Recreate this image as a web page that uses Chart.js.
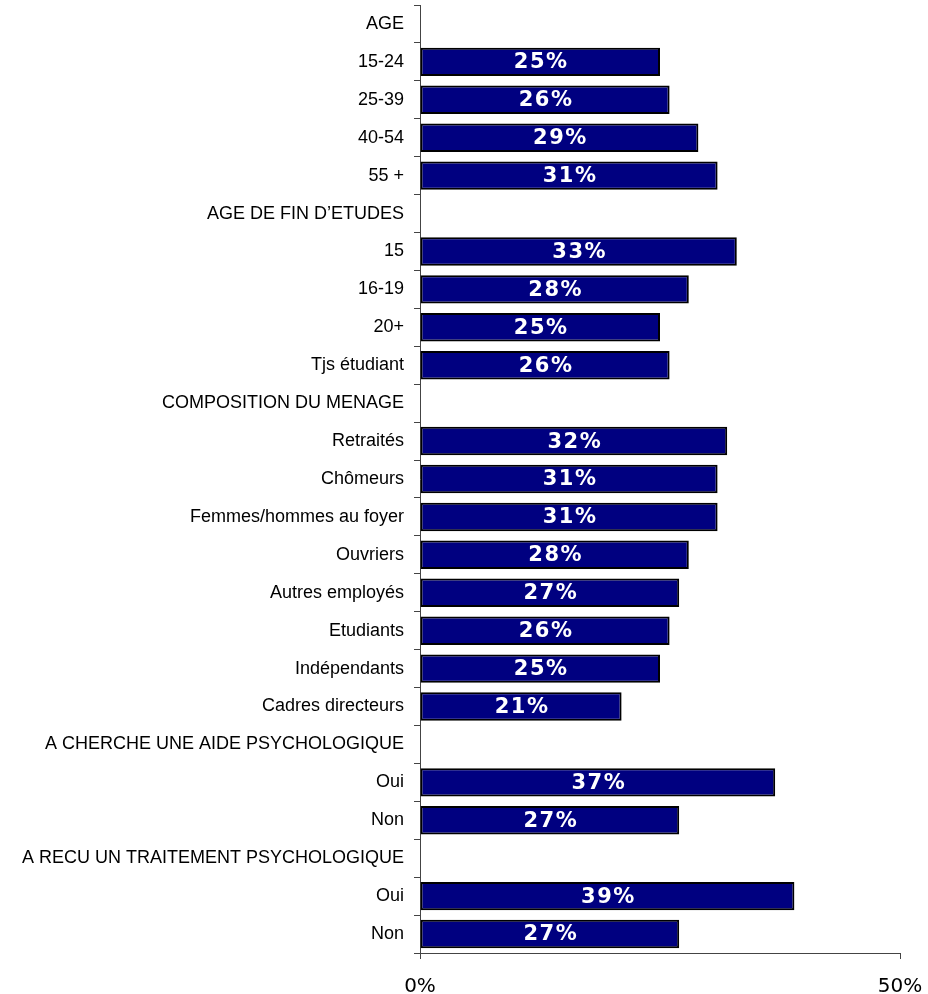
<!DOCTYPE html>
<html>
<head>
<meta charset="utf-8">
<script src="https://cdn.jsdelivr.net/npm/chart.js@4"></script>
<style>
  html, body { margin: 0; padding: 0; background: #fff; }
  #wrap { width: 928px; height: 994px; }
</style>
</head>
<body>
<div id="wrap"><canvas id="myChart"></canvas></div>
<script>
// categories (section headers have no bar)
const labels = [
    'AGE', '15-24', '25-39', '40-54', '55 +',
    'AGE DE FIN D\u2019ETUDES', '15', '16-19', '20+', 'Tjs étudiant',
    'COMPOSITION DU MENAGE', 'Retraités', 'Chômeurs', 'Femmes/hommes au foyer', 'Ouvriers',
    'Autres employés', 'Etudiants', 'Indépendants', 'Cadres directeurs',
    'A CHERCHE UNE AIDE PSYCHOLOGIQUE', 'Oui', 'Non',
    'A RECU UN TRAITEMENT PSYCHOLOGIQUE', 'Oui', 'Non'
]
const values = [
    null, 25, 26, 29, 31,
    null, 33, 28, 25, 26,
    null, 32, 31, 31, 28, 27, 26, 25, 21,
    null, 37, 27,
    null, 39, 27
]
const xTicks = [0, 50]

// white percentage text in the middle of each bar
const barLabels = {
    id: 'barLabels',
    afterDatasetsDraw(chart) {
        const ctx = chart.ctx
        const meta = chart.getDatasetMeta(0)
        ctx.save()
        ctx.fillStyle = '#fff'
        ctx.font = 'bold 21px "DejaVu Sans"'
        ctx.letterSpacing = '1.5px'
        ctx.textAlign = 'center'
        ctx.textBaseline = 'middle'
        meta.data.forEach((bar, i) => {
            const v = values[i]
            if (v === null) return
            const cx = (bar.x + bar.base) / 2 + 1
            ctx.fillText(v + '%', cx, bar.y + 1)
        })
        ctx.restore()
    }
}

const dataConfig = {
    labels: labels,
    datasets: [{
        data: values,
        backgroundColor: '#000080',
        borderColor: '#000',
        borderWidth: 2,
        borderSkipped: false,
        categoryPercentage: 1,
        barPercentage: 0.75
    }]
}

const config = {
    type: 'bar',
    data: dataConfig,
    options: {
        indexAxis: 'y',
        responsive: true,
        maintainAspectRatio: false,
        animation: false,
        layout: { padding: { top: 5, right: 28, left: 0, bottom: 0 } },
        plugins: {
            legend: { display: false },
            tooltip: { enabled: false }
        },
        scales: {
            x: {
                min: 0,
                max: 50,
                afterBuildTicks: (scale) => { scale.ticks = xTicks.map(v => ({ value: v })) },
                afterFit: (scale) => {
                    scale.height = 41
                    scale.paddingLeft = 0
                    scale.paddingRight = 0
                },
                grid: { drawOnChartArea: false, tickLength: 6, color: '#444' },
                border: { color: '#444', width: 1 },
                ticks: {
                    color: '#000',
                    padding: 16,
                    maxRotation: 0,
                    font: { family: 'DejaVu Sans', size: 20 },
                    callback: (v) => v + '%'
                }
            },
            y: {
                afterFit: (scale) => {
                    scale.width = 420
                    scale.paddingTop = 0
                    scale.paddingBottom = 0
                },
                grid: { drawOnChartArea: false, offset: true, tickLength: 6, color: '#444' },
                border: { color: '#444', width: 1 },
                ticks: {
                    autoSkip: false,
                    color: '#000',
                    padding: 10,
                    font: { family: 'Liberation Sans', size: 18 }
                }
            }
        }
    },
    plugins: [barLabels]
}

const myChart = new Chart(document.getElementById('myChart'), config)
</script>
</body>
</html>
